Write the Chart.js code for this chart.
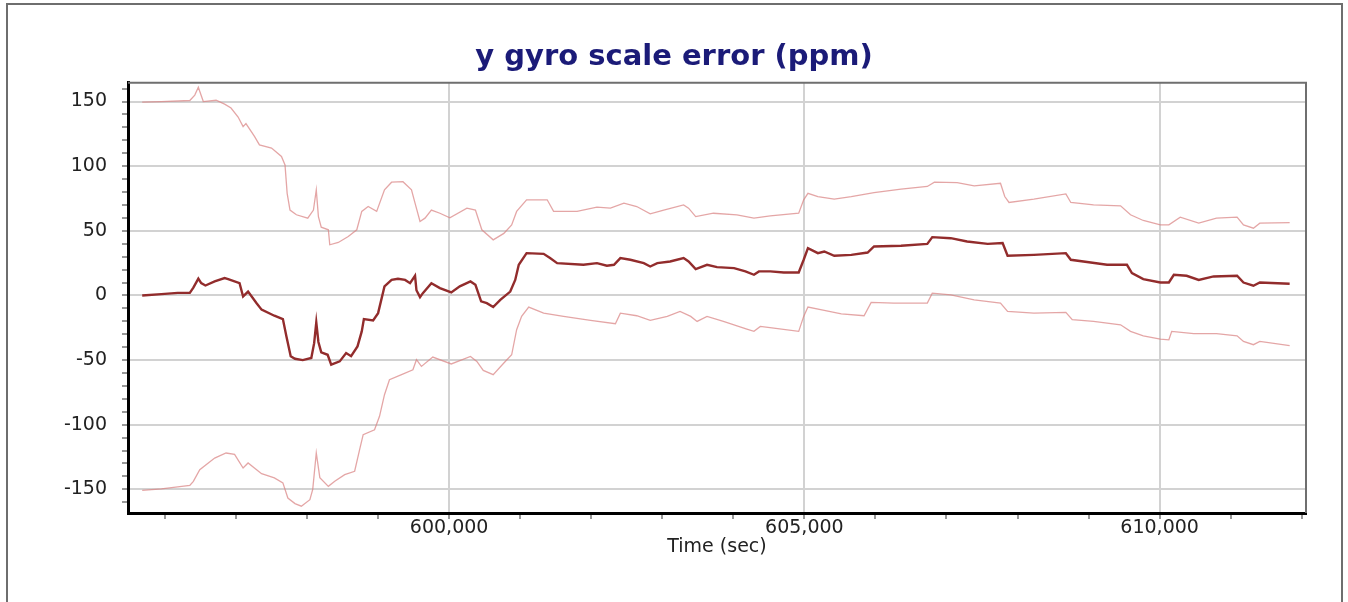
<!DOCTYPE html>
<html>
<head>
<meta charset="utf-8">
<script src="https://cdn.jsdelivr.net/npm/chart.js@4.4.0/dist/chart.umd.min.js"></script>
<style>
  html, body { margin: 0; padding: 0; background: #fff; }
  body { position: relative; width: 1348px; height: 602px; overflow: hidden; }
  .frame { position: absolute; left: 6px; top: 3px; width: 1337px; height: 660px;
           border: 2px solid #6e6e6e; box-sizing: border-box; }
  .wrap { position: absolute; left: 0; top: 0; width: 1348px; height: 602px; }
</style>
</head>
<body>
<div class="frame"></div>
<div class="wrap"><canvas id="chart" width="1348" height="602"></canvas></div>
<script>
// estimate (ppm) against time (sec)
const tMid = [595680, 595950, 596180, 596350, 596400, 596470, 596510, 596570, 596700, 596840, 596890, 597050,
    597100, 597170, 597290, 597360, 597540, 597660, 597710, 597770, 597830, 597940, 598060, 598100, 598130,
    598160, 598200, 598290, 598340, 598460, 598550, 598620, 598710, 598770, 598800, 598930, 599000, 599090,
    599190, 599280, 599380, 599450, 599520, 599540, 599590, 599630, 599750, 599870, 600030, 600150, 600300,
    600370, 600450, 600530, 600620, 600720, 600860, 600930, 600980, 601090, 601330, 601420, 601520, 601890,
    602080, 602220, 602320, 602410, 602550, 602740, 602830, 602930, 603110, 603300, 603370, 603470, 603630,
    603770, 604010, 604170, 604290, 604360, 604520, 604710, 604920, 604990, 605050, 605190, 605280, 605420,
    605660, 605890, 605980, 606360, 606730, 606800, 607060, 607290, 607580, 607790, 607860, 608230, 608680,
    608750, 609030, 609260, 609540, 609610, 609770, 610010, 610130, 610200, 610380, 610550, 610760, 611090,
    611180, 611320, 611410, 611830];
const vMid = [0, 1, 2, 2, 6, 13, 9.5, 7.7, 10.8, 13.4, 12.6, 9.5,
    -0.8, 3, -6, -11, -15.7, -18.3, -31.7, -47, -49, -50, -48.4, -36.9, -20.9,
    -36, -44, -45.9, -53.6, -51, -44.6, -47, -39.4, -27.8, -18.3, -19.3, -13.7, 7,
    12, 12.9, 12, 9.5, 15.2, 4, -1.3, 1.8, 9.5, 5.7, 2.3, 7, 10.8,
    8.2, -4.6, -6, -9, -3.4, 3, 12, 23.7, 32.7, 32.2, 28.9, 25, 23.7,
    25, 23, 23.7, 28.9, 27.6, 25, 22.4, 25, 26.3, 28.9, 26.3, 20.4, 23.7,
    21.9, 21.1, 18.6, 16, 18.6, 18.6, 17.8, 17.8, 27.6, 36.6, 32.7, 34, 30.7,
    31.4, 33.2, 37.9, 38.4, 39.9, 45.1, 44.3, 41.7, 39.9, 40.5, 30.7, 31.4, 32.7,
    27.6, 25.5, 23.7, 23.7, 17.3, 12.6, 10, 10, 16, 15.2, 12, 14.7, 15.2,
    10, 7.5, 10, 9];

// upper bound
const tUp = [595680, 595950, 596350, 596420, 596470, 596540, 596720, 596840, 596930, 597030, 597100, 597140,
    597260, 597330, 597500, 597640, 597690, 597720, 597760, 597850, 598010, 598090, 598130, 598160, 598200,
    598300, 598320, 598440, 598580, 598700, 598770, 598860, 598980, 599090, 599190, 599350, 599470, 599520,
    599590, 599660, 599750, 599870, 600010, 600250, 600370, 600460, 600620, 600770, 600880, 600950, 601090,
    601380, 601470, 601800, 602080, 602270, 602460, 602640, 602830, 603020, 603300, 603370, 603470, 603720,
    604050, 604290, 604520, 604920, 604990, 605050, 605190, 605420, 605660, 605980, 606360, 606730, 606830,
    607150, 607390, 607760, 607820, 607880, 608230, 608680, 608750, 609070, 609450, 609590, 609770, 610010,
    610130, 610290, 610550, 610800, 611090, 611180, 611320, 611410, 611830];
const vUp = [149.5, 150, 150.8, 155, 161, 150, 151, 148, 145, 138, 130.6, 133,
    123, 116.5, 114, 107.5, 101, 79, 66, 62.4, 59.8, 66, 81.7, 61, 52.8,
    50.8, 39.2, 41, 45.6, 50.8, 65, 68.8, 65, 81.7, 87.6, 88, 81.7, 71.4,
    57.2, 59.8, 66, 63.6, 60, 67.5, 66, 50.8, 43, 48, 54.6, 65, 74,
    74, 65, 65, 68.3, 67.5, 71.4, 68.8, 63.1, 66, 70, 67.5, 61, 63.6,
    62.4, 59.8, 61.6, 63.6, 74, 79, 76.5, 74.5, 76.5, 79.6, 82.2, 84.3, 87.6,
    87.3, 84.8, 86.8, 76.5, 71.9, 74.5, 78.6, 71.9, 70, 69.3, 62.4, 58, 54.6,
    54.6, 60.6, 55.9, 59.8, 60.6, 54.6, 52, 55.9, 56.4];

// lower bound
const tLow = [595680, 595950, 596350, 596400, 596490, 596700, 596860, 596980, 597100, 597170, 597360, 597540,
    597660, 597730, 597830, 597920, 598040, 598080, 598130, 598180, 598300, 598390, 598530, 598670, 598740,
    598790, 598950, 599020, 599090, 599160, 599330, 599490, 599540, 599610, 599770, 600030, 600300, 600390,
    600480, 600620, 600770, 600880, 600950, 601020, 601120, 601330, 601610, 601990, 602340, 602410, 602640,
    602830, 603070, 603250, 603400, 603490, 603630, 603860, 604190, 604290, 604380, 604570, 604920, 604990,
    605050, 605280, 605520, 605840, 605940, 606260, 606730, 606800, 607060, 607390, 607760, 607860, 608230,
    608680, 608770, 609070, 609450, 609590, 609770, 610010, 610130, 610170, 610480, 610800, 611090, 611180,
    611320, 611410, 611830];
const vLow = [-150.8, -149.7, -147, -143.8, -134.8, -125.8, -121.9, -123, -133.5, -129.6, -137.9, -141.2,
    -145, -156.7, -161, -163, -158, -150, -121.9, -141, -147.7, -143.8, -138.6, -136, -119.3,
    -107.7, -103.9, -93.5, -76.8, -65.2, -61.3, -57.5, -49.7, -54.9, -47.7, -53, -47.2, -51,
    -58, -61.3, -52.3, -45.9, -26.5, -16.2, -9, -13.7, -16.2, -19.3, -21.9, -13.7, -15.7,
    -19.3, -16.2, -12.4, -16.2, -20.1, -16.2, -20.1, -26, -27.8, -24, -25.3, -27.8, -16.2,
    -9, -11.6, -14.2, -15.7, -5.4, -5.9, -5.9, 1.8, 0.5, -3.4, -5.9, -12.4, -13.7,
    -13.1, -18.8, -20.1, -22.7, -27.8, -31.2, -33.8, -34.3, -27.8, -29.6, -29.6, -31.2, -35.6,
    -38.1, -35.6, -38.9];

// axis ticks: labelled ones and the minor step between them
const yLabels = [-150, -100, -50, 0, 50, 100, 150];
const xLabels = [600000, 605000, 610000];
const yMinorStep = 10;
const xMinorStep = 1000;

const FONT = "'DejaVu Sans', Verdana, sans-serif";


function toPoints(ts, vs) {
    return ts.map((t, i) => ({ x: t, y: vs[i] }));
}


function minorTicks(scale, step, from, to) {
    const ticks = [];
    for (let v = from; v <= to; v += step) {
        ticks.push({ value: v });
    }
    scale.ticks = ticks;
}


// grey top and right edges of the plot box
const plotFrame = {
    id: 'plotFrame',
    afterDraw(chart) {
        const { ctx, chartArea: a } = chart;
        ctx.save();
        ctx.strokeStyle = '#6f6f6f';
        ctx.lineWidth = 2;
        ctx.beginPath();
        ctx.moveTo(a.left, a.top);
        ctx.lineTo(a.right, a.top);
        ctx.lineTo(a.right, a.bottom);
        ctx.stroke();
        ctx.restore();
    }
};


function createChart() {
    const lineBase = { pointRadius: 0, tension: 0, fill: false };
    new Chart(document.getElementById('chart'), {
        type: 'line',
        data: {
            datasets: [
                { ...lineBase, label: 'upper', data: toPoints(tUp, vUp), borderColor: 'rgba(216, 128, 128, 0.7)', borderWidth: 1.3 },
                { ...lineBase, label: 'lower', data: toPoints(tLow, vLow), borderColor: 'rgba(216, 128, 128, 0.7)', borderWidth: 1.3 },
                { ...lineBase, label: 'estimate', data: toPoints(tMid, vMid), borderColor: '#922c2c', borderWidth: 2.4 }
            ]
        },
        options: {
            responsive: false,
            animation: false,
            devicePixelRatio: 1,
            layout: { padding: 0 },
            plugins: {
                legend: { display: false },
                tooltip: { enabled: false },
                title: {
                    display: true,
                    text: 'y gyro scale error (ppm)',
                    color: '#1b1b78',
                    font: { family: FONT, size: 29, weight: 'bold' },
                    padding: { top: 40, bottom: 8 }
                }
            },
            scales: {
                x: {
                    type: 'linear',
                    min: 595480,
                    max: 612060,
                    afterFit: (scale) => { scale.height = 89; },
                    afterBuildTicks: (scale) => minorTicks(scale, xMinorStep, 596000, 612000),
                    border: { color: '#000', width: 3 },
                    grid: {
                        color: (c) => xLabels.includes(c.tick.value) ? '#d2d2d2' : 'rgba(0,0,0,0)',
                        lineWidth: 2,
                        tickColor: '#777',
                        tickLength: 6,
                        tickWidth: 1.5
                    },
                    ticks: {
                        autoSkip: false,
                        maxRotation: 0,
                        padding: -2,
                        color: '#222',
                        font: { family: FONT, size: 19 },
                        callback: (v) => xLabels.includes(v) ? v.toLocaleString('en-US') : ''
                    },
                    title: {
                        display: true,
                        text: 'Time (sec)',
                        color: '#222',
                        font: { family: FONT, size: 19 },
                        padding: { top: 0, bottom: 44 }
                    }
                },
                y: {
                    min: -168.3,
                    max: 164.5,
                    afterFit: (scale) => { scale.width = 128; },
                    afterBuildTicks: (scale) => minorTicks(scale, yMinorStep, -160, 160),
                    border: { color: '#000', width: 3 },
                    grid: {
                        color: (c) => yLabels.includes(c.tick.value) ? '#d2d2d2' : 'rgba(0,0,0,0)',
                        lineWidth: 2,
                        tickColor: '#777',
                        tickLength: 6,
                        tickWidth: 1.5
                    },
                    ticks: {
                        autoSkip: false,
                        padding: 15,
                        color: '#222',
                        font: { family: FONT, size: 19 },
                        callback: (v) => yLabels.includes(v) ? String(v) : ''
                    }
                },
                // empty right-hand strip so the title stays centred on the page
                yRight: {
                    position: 'right',
                    min: -168.3,
                    max: 164.5,
                    afterFit: (scale) => { scale.width = 42; },
                    border: { display: false },
                    grid: { display: false },
                    ticks: { display: false }
                }
            }
        },
        plugins: [plotFrame]
    });
}


createChart();
</script>
</body>
</html>
